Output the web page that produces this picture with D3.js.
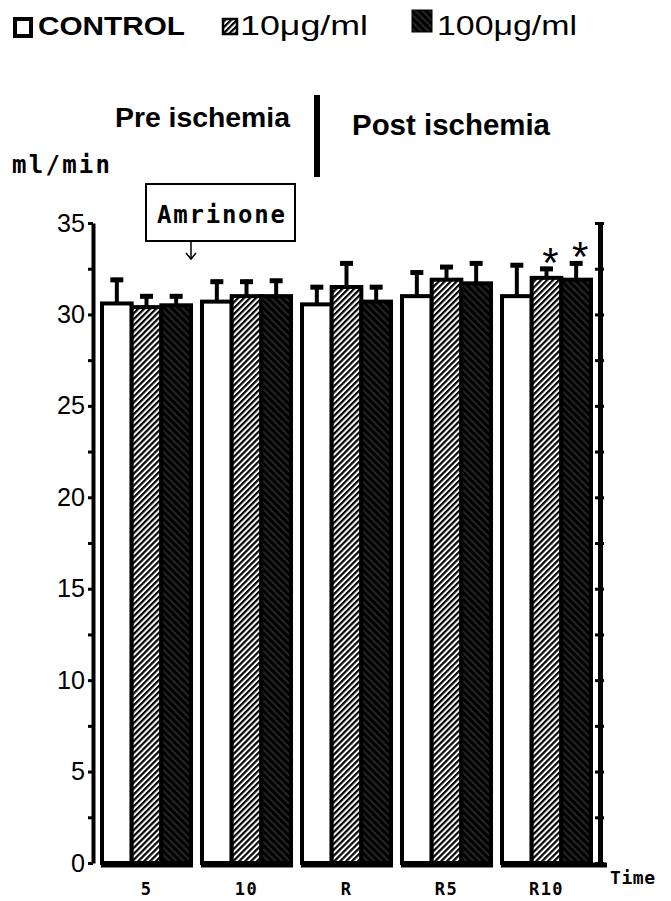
<!DOCTYPE html>
<html>
<head>
<meta charset="utf-8">
<script src="https://d3js.org/d3.v7.min.js"></script>
<style>
  body { margin: 0; background: #fff; }
  svg { display: block; }
</style>
</head>
<body>
<div id="chart"></div>
<script>
const times = ["5", "10", "R", "R5", "R10"];
const series = ["CONTROL", "10μg/ml", "100μg/ml"];
const controlMean = [30.6, 30.7, 30.55, 31.0, 31.0];
const controlSD = [1.4, 1.2, 1.05, 1.4, 1.8];
const low10Mean = [30.4, 31.0, 31.5, 31.9, 32.0];
const low10SD = [0.7, 0.9, 1.4, 0.8, 0.6];
const high100Mean = [30.5, 31.0, 30.7, 31.7, 31.9];
const high100SD = [0.6, 0.95, 0.9, 1.2, 1.0];
const signif = [
  [false, false, false, false, false],
  [false, false, false, false, true],
  [false, false, false, false, true]
];
const yTicks = [0, 2.5, 5, 7.5, 10, 12.5, 15, 17.5, 20, 22.5, 25, 27.5, 30, 32.5, 35];

var width = 671,
  height = 901;

var svg = d3
  .select("#chart")
  .append("svg")
  .attr("width", width)
  .attr("height", height);

// fill patterns
var defs = svg.append("defs");
defs
  .append("pattern")
  .attr("id", "hatch")
  .attr("patternUnits", "userSpaceOnUse")
  .attr("width", 4.2)
  .attr("height", 4.2)
  .attr("patternTransform", "rotate(45)")
  .call(p => p.append("rect").attr("width", 4.2).attr("height", 4.2).attr("fill", "#fff"))
  .call(p =>
    p.append("line").attr("x1", 1.1).attr("x2", 1.1).attr("y1", 0).attr("y2", 4.2)
      .attr("stroke", "#000").attr("stroke-width", 2.2)
  );
defs
  .append("pattern")
  .attr("id", "dark")
  .attr("patternUnits", "userSpaceOnUse")
  .attr("width", 5)
  .attr("height", 5)
  .attr("patternTransform", "rotate(-45)")
  .call(p => p.append("rect").attr("width", 5).attr("height", 5).attr("fill", "#000"))
  .call(p =>
    p.append("line").attr("x1", 1).attr("x2", 1).attr("y1", 0).attr("y2", 5)
      .attr("stroke", "#777").attr("stroke-width", 0.6)
  );

const fills = ["#fff", "url(#hatch)", "url(#dark)"];

var x = d3.scaleBand().domain(times).range([93, 600]).paddingInner(0.11).paddingOuter(0.09);
var xs = d3.scaleBand().domain(series).range([0, x.bandwidth()]);
var y = d3.scaleLinear().domain([0, 35]).range([863, 223]);

const means = [controlMean, low10Mean, high100Mean];
const sds = [controlSD, low10SD, high100SD];
var barData = [];
series.forEach((s, si) => {
  times.forEach((t, ti) => {
    barData.push({ s: s, si: si, t: t, v: means[si][ti], sd: sds[si][ti], sig: signif[si][ti] });
  });
});

// error bars (upper only)
var err = svg.append("g");
err
  .selectAll("line.stem")
  .data(barData)
  .enter()
  .append("line")
  .attr("x1", d => x(d.t) + xs(d.s) + xs.bandwidth() / 2)
  .attr("x2", d => x(d.t) + xs(d.s) + xs.bandwidth() / 2)
  .attr("y1", d => y(d.v))
  .attr("y2", d => y(d.v + d.sd))
  .attr("stroke", "#000")
  .attr("stroke-width", 4);
err
  .selectAll("line.cap")
  .data(barData)
  .enter()
  .append("line")
  .attr("x1", d => x(d.t) + xs(d.s) + xs.bandwidth() / 2 - 6.5)
  .attr("x2", d => x(d.t) + xs(d.s) + xs.bandwidth() / 2 + 6.5)
  .attr("y1", d => y(d.v + d.sd) + 2)
  .attr("y2", d => y(d.v + d.sd) + 2)
  .attr("stroke", "#000")
  .attr("stroke-width", 5);

// bars
svg
  .append("g")
  .selectAll("rect")
  .data(barData)
  .enter()
  .append("rect")
  .attr("x", d => x(d.t) + xs(d.s))
  .attr("y", d => y(d.v))
  .attr("width", xs.bandwidth())
  .attr("height", d => y(0) - y(d.v))
  .attr("fill", d => fills[d.si])
  .attr("stroke", "#000")
  .attr("stroke-width", 4);

// significance stars
svg
  .append("g")
  .selectAll("text")
  .data(barData.filter(d => d.sig))
  .enter()
  .append("text")
  .attr("x", d => x(d.t) + xs(d.s) + xs.bandwidth() / 2 + 4)
  .attr("y", d => y(d.v + d.sd) + 10)
  .attr("text-anchor", "middle")
  .attr("font-family", "Liberation Sans")
  .attr("font-size", 42)
  .text("*");

// baseline segments under each group
svg
  .append("g")
  .selectAll("line")
  .data(times)
  .enter()
  .append("line")
  .attr("x1", d => x(d) - 1)
  .attr("x2", (d, i) => (i === times.length - 1 ? 607 : x(d) + x.bandwidth() + 2))
  .attr("y1", y(0) + 2)
  .attr("y2", y(0) + 2)
  .attr("stroke", "#000")
  .attr("stroke-width", 5);

// left axis
var leftAxis = svg
  .append("g")
  .attr("transform", "translate(93,0)")
  .call(
    d3.axisLeft(y).tickValues(yTicks).tickSize(5).tickSizeOuter(0).tickPadding(3)
      .tickFormat(d => (d % 5 === 0 ? d : ""))
  );
leftAxis.select(".domain").attr("stroke-width", 4);
leftAxis.selectAll(".tick line").attr("stroke-width", 3);
leftAxis.selectAll("text")
  .attr("font-family", "Liberation Sans")
  .attr("font-size", 25)
  .attr("fill", "#000")
  .attr("textLength", d => (d < 10 ? 14 : 28))
  .attr("lengthAdjust", "spacingAndGlyphs");

// right axis, no labels
var rightAxis = svg
  .append("g")
  .attr("transform", "translate(600,0)")
  .call(d3.axisRight(y).tickValues(yTicks).tickSize(4).tickSizeOuter(0).tickFormat(""));
rightAxis.select(".domain").attr("stroke-width", 5);
rightAxis.selectAll(".tick line").attr("stroke-width", 3).attr("x1", -5);

// category labels
svg
  .append("g")
  .selectAll("text")
  .data(times)
  .enter()
  .append("text")
  .attr("x", d => x(d) + x.bandwidth() / 2)
  .attr("y", 895)
  .attr("text-anchor", "middle")
  .attr("font-family", "DejaVu Sans Mono")
  .attr("font-weight", "bold")
  .attr("font-size", 17)
  .attr("letter-spacing", 1.5)
  .text(d => d);

svg.append("text")
  .attr("x", 610).attr("y", 884)
  .attr("font-family", "DejaVu Sans Mono").attr("font-weight", "bold").attr("font-size", 18)
  .attr("textLength", 45)
  .text("Time");

svg.append("text")
  .attr("x", 12).attr("y", 173)
  .attr("font-family", "DejaVu Sans Mono").attr("font-weight", "bold").attr("font-size", 24)
  .attr("textLength", 98)
  .text("ml/min");

// Amrinone box and arrow
svg.append("rect")
  .attr("x", 146).attr("y", 184).attr("width", 149).attr("height", 57)
  .attr("fill", "#fff").attr("stroke", "#000").attr("stroke-width", 2);
svg.append("text")
  .attr("x", 157).attr("y", 223)
  .attr("font-family", "DejaVu Sans Mono").attr("font-weight", "bold").attr("font-size", 24)
  .attr("textLength", 128)
  .text("Amrinone");
svg.append("line")
  .attr("x1", 191).attr("x2", 191).attr("y1", 242).attr("y2", 259)
  .attr("stroke", "#000").attr("stroke-width", 1.5);
svg.append("path")
  .attr("d", "M186,253 L191,259 L196,253")
  .attr("fill", "none").attr("stroke", "#000").attr("stroke-width", 1.5);

// pre / post ischemia
svg.append("text")
  .attr("x", 115).attr("y", 127)
  .attr("font-family", "Liberation Sans").attr("font-weight", "bold").attr("font-size", 27)
  .attr("textLength", 175).attr("lengthAdjust", "spacingAndGlyphs")
  .text("Pre ischemia");
svg.append("line")
  .attr("x1", 317).attr("x2", 317).attr("y1", 95).attr("y2", 177)
  .attr("stroke", "#000").attr("stroke-width", 6);
svg.append("text")
  .attr("x", 352).attr("y", 135)
  .attr("font-family", "Liberation Sans").attr("font-weight", "bold").attr("font-size", 30)
  .attr("textLength", 198).attr("lengthAdjust", "spacingAndGlyphs")
  .text("Post ischemia");

// legend
const legendBoxes = [
  { x: 15, y: 19, w: 16, h: 17, sw: 4, tx: 38, tl: 147, fs: 25 },
  { x: 223, y: 19, w: 14, h: 15, sw: 2.5, tx: 240, tl: 128, fs: 27 },
  { x: 412, y: 10, w: 20, h: 22, sw: 1, tx: 437, tl: 140, fs: 27 }
];
var legend = svg.append("g");
legend
  .selectAll("rect")
  .data(series)
  .enter()
  .append("rect")
  .attr("x", (d, i) => legendBoxes[i].x)
  .attr("y", (d, i) => legendBoxes[i].y)
  .attr("width", (d, i) => legendBoxes[i].w)
  .attr("height", (d, i) => legendBoxes[i].h)
  .attr("fill", (d, i) => fills[i])
  .attr("stroke", "#000")
  .attr("stroke-width", (d, i) => legendBoxes[i].sw);
legend
  .selectAll("text")
  .data(series)
  .enter()
  .append("text")
  .attr("x", (d, i) => legendBoxes[i].tx)
  .attr("y", 35)
  .attr("font-family", "Liberation Sans")
  .attr("font-weight", (d, i) => (i === 0 ? "bold" : "normal"))
  .attr("font-size", (d, i) => legendBoxes[i].fs)
  .attr("textLength", (d, i) => legendBoxes[i].tl)
  .attr("lengthAdjust", "spacingAndGlyphs")
  .text(d => d);
</script>
</body>
</html>
